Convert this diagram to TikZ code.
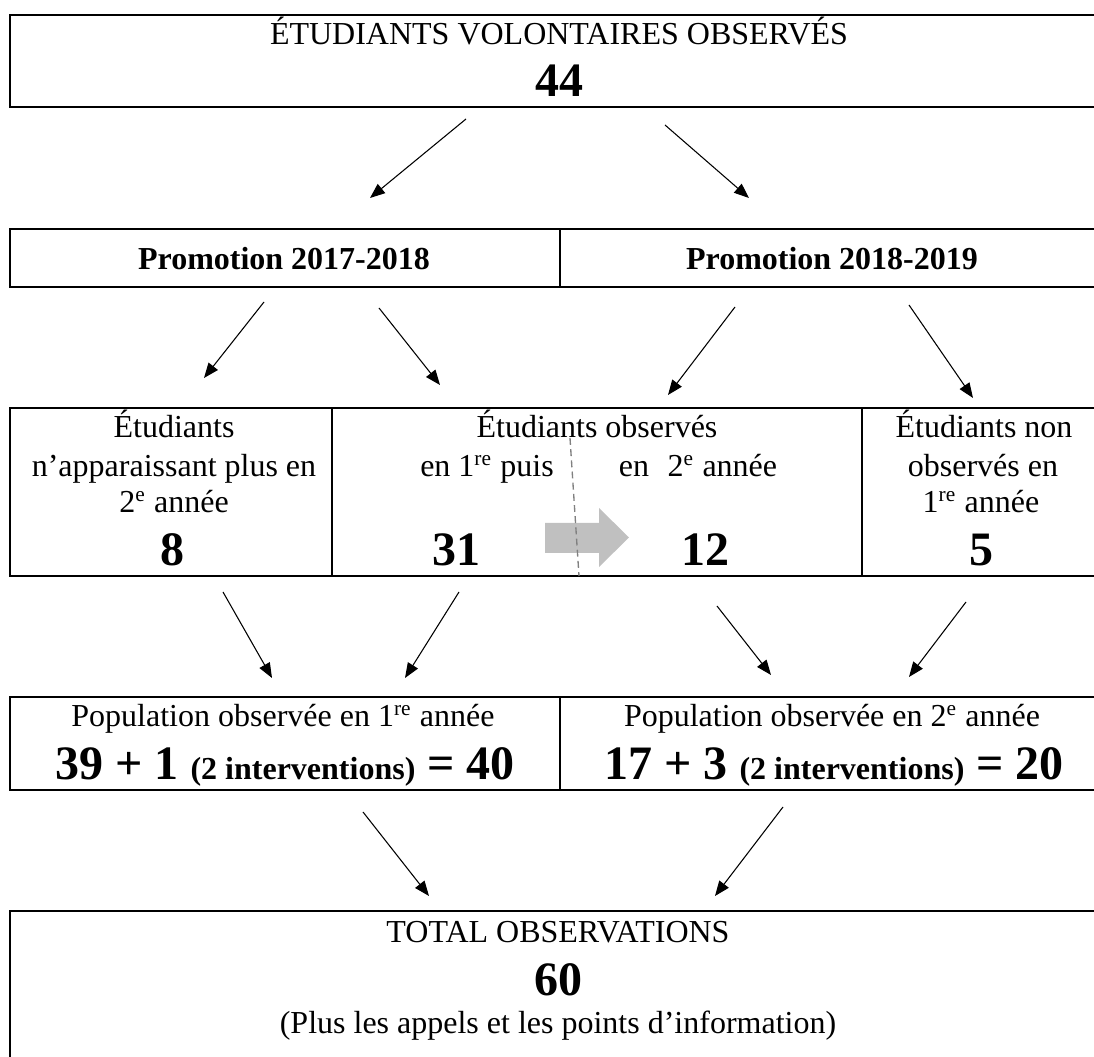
\documentclass[tikz,border=0pt]{standalone}
\usepackage{fontspec}
\setmainfont{Liberation Serif}
\usetikzlibrary{arrows.meta, fit}
\definecolor{grisfleche}{RGB}{192,192,192}
\definecolor{grispoint}{RGB}{128,128,128}
\tikzset{
  cadre/.style={draw, line width=0.8pt, inner sep=0pt},
  fleche/.style={-{Triangle[length=5.6pt,width=4.4pt]}, line width=0.4pt},
  txt/.style={anchor=base, inner sep=0pt, font=\fontsize{12}{14}\selectfont},
  gras/.style={anchor=base, inner sep=0pt, font=\bfseries\fontsize{12}{14}\selectfont},
  nombre/.style={anchor=base, inner sep=0pt, font=\bfseries\fontsize{18}{20}\selectfont},
}

\begin{document}
\begin{tikzpicture}[x=0.375pt, y=-0.375pt]
      \useasboundingbox (0,0) rectangle (1094,1057);

      % les cadres
      \node[cadre, fit={(10,15) (1100,107)}] (volontaires) {};
      \node[cadre, fit={(10,229) (560,287)}] (promoA) {};
      \node[cadre, fit={(560,229) (1100,287)}] (promoB) {};
      \node[cadre, fit={(10,408) (332,576)}] (partis) {};
      \node[cadre, fit={(332,408) (862,576)}] (suivis) {};
      \node[cadre, fit={(862,408) (1100,576)}] (nouveaux) {};
      \node[cadre, fit={(10,697) (560,790)}] (popA) {};
      \node[cadre, fit={(560,697) (1100,790)}] (popB) {};
      \node[cadre, fit={(10,911) (1100,1070)}] (total) {};

      % passage de la 1re a la 2e annee
      \fill[grisfleche] (545,523) -- (599,523) -- (599,508) -- (629,537.5)
        -- (599,567) -- (599,553) -- (545,553) -- cycle;
      \draw[grispoint, dashed, line width=0.5pt, dash pattern=on 2.6pt off 1.6pt] (570,438)--(579,576);

      % les textes
      \node[txt] (t-vol) at (559,45) {ÉTUDIANTS VOLONTAIRES OBSERVÉS};
      \node[nombre] (n-vol) at (559,97) {44};

      \node[gras] (t-pa) at (284,270) {Promotion 2017-2018};
      \node[gras] (t-pb) at (832,270) {Promotion 2018-2019};

      \node[txt] (t-part1) at (174,438) {Étudiants};
      \node[txt] (t-part2) at (174,477) {n’apparaissant plus en};
      \node[txt] (t-part3) at (174,513) {2\textsuperscript{e} année};
      \node[nombre] (n-part) at (172,566) {8};

      \node[txt] (t-suiv1) at (597,438) {Étudiants observés};
      \node[txt] (t-suiv2) at (487,477) {en 1\textsuperscript{re} puis};
      \node[txt] (t-suiv3) at (698,477) {en\hspace{7pt}2\textsuperscript{e} année};
      \node[nombre] (n-suivA) at (456,566) {31};
      \node[nombre] (n-suivB) at (705,566) {12};

      \node[txt] (t-nouv1) at (984,438) {Étudiants non};
      \node[txt] (t-nouv2) at (983,477) {observés en};
      \node[txt] (t-nouv3) at (981,513) {1\textsuperscript{re} année};
      \node[nombre] (n-nouv) at (981,566) {5};

      \node[txt] (t-popA) at (283,727) {Population observée en 1\textsuperscript{re} année};
      \node[nombre] (n-popA) at (285,780) {39 + 1 {\fontsize{12}{14}\selectfont (2 interventions)} = 40};
      \node[txt] (t-popB) at (832,727) {Population observée en 2\textsuperscript{e} année};
      \node[nombre] (n-popB) at (834,780) {17 + 3 {\fontsize{12}{14}\selectfont (2 interventions)} = 20};

      \node[txt] (t-tot) at (558,943) {TOTAL OBSERVATIONS};
      \node[nombre] (n-tot) at (558,996) {60};
      \node[txt] (t-plus) at (558,1034) {(Plus les appels et les points d’information)};

      % les fleches
      \coordinate (d1) at (466,119);  \coordinate (f1) at (370,198);
      \coordinate (d2) at (665,125);  \coordinate (f2) at (749,198);
      \coordinate (d3) at (264,302);  \coordinate (f3) at (204,378);
      \coordinate (d4) at (379,308);  \coordinate (f4) at (440,385);
      \coordinate (d5) at (735,307);  \coordinate (f5) at (668,395);
      \coordinate (d6) at (909,305);  \coordinate (f6) at (973,398);
      \coordinate (d7) at (223,592);  \coordinate (f7) at (272,678);
      \coordinate (d8) at (459,592);  \coordinate (f8) at (405,678);
      \coordinate (d9) at (717,606);  \coordinate (f9) at (771,675);
      \coordinate (d10) at (966,602); \coordinate (f10) at (909,677);
      \coordinate (d11) at (363,812); \coordinate (f11) at (429,896);
      \coordinate (d12) at (783,807); \coordinate (f12) at (715,896);

      \foreach \i in {1,...,12}
        \draw[fleche] (d\i) -- (f\i);
    \end{tikzpicture}
\end{document}
